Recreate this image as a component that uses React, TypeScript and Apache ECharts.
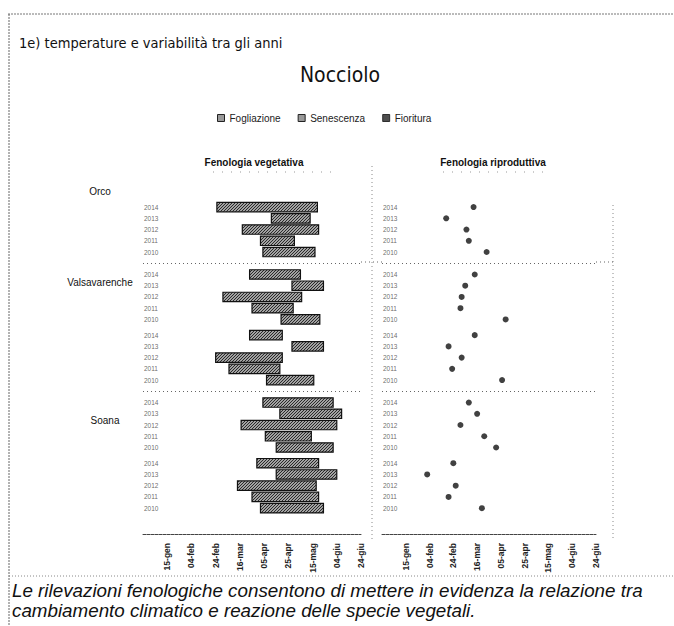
import React, { useEffect, useRef } from 'react';
import * as echarts from 'echarts';

// x values are days counted from 26 December (0 = 26-dic, 20 = 15-gen, ...)
const years = ['2014', '2013', '2012', '2011', '2010'];
const xTickLabels = ['26-dic', '15-gen', '04-feb', '24-feb', '16-mar', '05-apr', '25-apr', '15-mag', '04-giu', '24-giu'];
const seriesNames = ['Fogliazione', 'Senescenza', 'Fioritura'];

const orcoStart = [61, 106, 82, 97, 99];
const orcoEnd = [144, 138, 145, 125, 142];
const orcoFlower = [77, 54, 71, 73, 88];

const valsAStart = [88, 123, 66, 90, 114];
const valsAEnd = [130, 149, 131, 124, 146];
const valsAFlower = [78, 70, 67, 66, 104];

const valsBStart = [88, 123, 60, 71, 102];
const valsBEnd = [115, 149, 115, 113, 141];
const valsBFlower = [78, 56, 67, 59, 101];

const soanaAStart = [99, 113, 81, 101, 110];
const soanaAEnd = [157, 164, 160, 139, 157];
const soanaAFlower = [73, 80, 66, 86, 96];

const soanaBStart = [94, 110, 78, 90, 97];
const soanaBEnd = [145, 160, 143, 145, 149];
const soanaBFlower = [60, 38, 62, 56, 84];

const groups = [
  { site: 'Orco', start: orcoStart, end: orcoEnd, flower: orcoFlower },
  { site: 'Valsavarenche', start: valsAStart, end: valsAEnd, flower: valsAFlower },
  { site: 'Valsavarenche', start: valsBStart, end: valsBEnd, flower: valsBFlower },
  { site: 'Soana', start: soanaAStart, end: soanaAEnd, flower: soanaAFlower },
  { site: 'Soana', start: soanaBStart, end: soanaBEnd, flower: soanaBFlower },
];

function makeHatch() {
  const c = document.createElement('canvas');
  c.width = 3;
  c.height = 3;
  const ctx = c.getContext('2d')!;
  ctx.fillStyle = '#a2a2a2';
  ctx.fillRect(0, 0, 3, 3);
  ctx.fillStyle = '#2a2a2a';
  ctx.fillRect(2, 0, 1, 1);
  ctx.fillRect(1, 1, 1, 1);
  ctx.fillRect(0, 2, 1, 1);
  return c;
}

export default function App() {
  const ref = useRef<HTMLDivElement>(null);
  useEffect(() => {
    if (!ref.current) return;
    const chart = echarts.init(ref.current, null, { renderer: 'svg' });
    const hatch = { image: makeHatch(), repeat: 'repeat', imageWidth: 3, imageHeight: 3 } as any;

    const barRows: any[] = [];
    const flowerRows: any[] = [];
    const yearRowsL: any[] = [];
    const yearRowsR: any[] = [];
    const separators: number[] = [];
    let pos = 0;
    let prevSite = '';
    groups.forEach((g, gi) => {
      if (gi > 0) {
        if (g.site !== prevSite) {
          separators.push(pos);
          pos += 1;
        } else {
          pos += 0.4;
        }
      }
      years.forEach((yr, i) => {
        const p = pos + i;
        barRows.push([g.start[i], g.end[i], p]);
        flowerRows.push([g.flower[i], p]);
        yearRowsL.push({ value: [0, p], year: yr });
        yearRowsR.push({ value: [0, p], year: yr });
      });
      pos += 5;
      prevSite = g.site;
    });

    const xAxisBase = (gridIndex: number) => ({
      type: 'value',
      gridIndex,
      min: 0,
      max: 180,
      interval: 20,
      axisLine: { show: true, onZero: false, lineStyle: { color: '#444', width: 1, type: [3, 1] } },
      axisTick: { show: false },
      splitLine: { show: false },
      axisLabel: {
        rotate: 90,
        margin: 9,
        fontSize: 8.5,
        fontWeight: 'bold',
        fontFamily: 'Liberation Sans, Arial, sans-serif',
        color: '#222',
        showMinLabel: false,
        formatter: (v: number) => xTickLabels[Math.round(v / 20)] || '',
      },
    });
    const yAxisBase = (gridIndex: number) => ({
      type: 'value',
      gridIndex,
      min: -3.3,
      max: 29.1,
      inverse: true,
      show: false,
    });

    const sepLine = {
      silent: true,
      symbol: 'none',
      label: { show: false },
      lineStyle: { color: '#666', type: [1, 3], width: 1 },
      data: separators.map((s) => ({ yAxis: s })),
    };

    const yearLabelSeries = (idx: number, rows: any[]) => ({
      type: 'scatter',
      xAxisIndex: idx,
      yAxisIndex: idx,
      symbolSize: 0,
      silent: true,
      data: rows,
      label: {
        show: true,
        position: 'right',
        distance: 1,
        fontSize: 6.5,
        color: '#444',
        fontFamily: 'Liberation Sans, Arial, sans-serif',
        formatter: (p: any) => p.data.year,
      },
      tooltip: { show: false },
    });

    const dotted = { stroke: '#888', lineWidth: 1, lineDash: [1, 3] };

    const text = (t: string, x: number, y: number, font: string, align = 'left', fill = '#111') => ({
      type: 'text',
      x,
      y,
      silent: true,
      style: {
        text: t,
        font,
        fill,
        align,
        textAlign: align,
        verticalAlign: 'middle',
        textVerticalAlign: 'middle',
      },
    });

    chart.setOption({
      animation: false,
      legend: {
        data: [
          { name: seriesNames[0], itemStyle: { color: '#999', borderColor: '#222', borderWidth: 1 } },
          { name: seriesNames[1], itemStyle: { color: '#999', borderColor: '#222', borderWidth: 1 } },
          { name: seriesNames[2], itemStyle: { color: '#222', borderColor: '#111', borderWidth: 1 } },
        ],
        left: 217,
        top: 113,
        padding: 0,
        icon: 'rect',
        itemWidth: 7,
        itemHeight: 7,
        itemGap: 17,
        selectedMode: false,
        textStyle: { fontSize: 10, color: '#222', fontFamily: 'Liberation Sans, Arial, sans-serif' },
      },
      grid: [
        { left: 143, width: 218, top: 170, height: 364 },
        { left: 382, width: 214, top: 170, height: 364 },
      ],
      xAxis: [xAxisBase(0), xAxisBase(1)],
      yAxis: [yAxisBase(0), yAxisBase(1)],
      series: [
        {
          name: seriesNames[0],
          type: 'custom',
          xAxisIndex: 0,
          yAxisIndex: 0,
          itemStyle: { color: '#999' },
          encode: { x: [0, 1], y: 2 },
          data: barRows,
          renderItem: (params: any, api: any) => {
            const a = api.coord([api.value(0), api.value(2)]);
            const b = api.coord([api.value(1), api.value(2)]);
            const h = api.size([0, 1])[1] * 0.84;
            return {
              type: 'rect',
              shape: { x: a[0], y: a[1] - h / 2, width: b[0] - a[0], height: h },
              style: { fill: hatch, stroke: '#111', lineWidth: 1.2 },
            };
          },
          markLine: sepLine,
        },
        {
          name: seriesNames[1],
          type: 'custom',
          xAxisIndex: 0,
          yAxisIndex: 0,
          itemStyle: { color: '#999' },
          data: [],
          renderItem: () => null,
        },
        {
          name: seriesNames[2],
          type: 'scatter',
          xAxisIndex: 1,
          yAxisIndex: 1,
          symbol: 'circle',
          symbolSize: 6,
          itemStyle: { color: '#111' },
          data: flowerRows,
          markLine: sepLine,
        },
        yearLabelSeries(0, yearRowsL),
        yearLabelSeries(1, yearRowsR),
      ],
      graphic: [
        { type: 'line', silent: true, shape: { x1: 8, y1: 14, x2: 674, y2: 14 }, style: { stroke: '#777', lineWidth: 1, lineDash: [2, 1] } },
        { type: 'line', silent: true, shape: { x1: 9, y1: 14, x2: 9, y2: 626 }, style: { stroke: '#666', lineWidth: 1, lineDash: [2, 1] } },
        { type: 'line', silent: true, shape: { x1: 9, y1: 576, x2: 674, y2: 576 }, style: { stroke: '#888', lineWidth: 1, lineDash: [1, 2] } },
        { type: 'line', silent: true, shape: { x1: 372, y1: 166, x2: 372, y2: 540 }, style: dotted },
        { type: 'line', silent: true, shape: { x1: 613, y1: 205, x2: 613, y2: 540 }, style: dotted },
        { type: 'line', silent: true, shape: { x1: 361, y1: 262, x2: 382, y2: 262 }, style: { stroke: '#666', lineWidth: 1, lineDash: [1, 3] } },
        { type: 'line', silent: true, shape: { x1: 596, y1: 262, x2: 613, y2: 262 }, style: { stroke: '#666', lineWidth: 1, lineDash: [1, 3] } },
        { type: 'line', silent: true, shape: { x1: 213, y1: 172, x2: 333, y2: 172 }, style: { stroke: '#999', lineWidth: 1, lineDash: [1, 8] } },
        { type: 'line', silent: true, shape: { x1: 443, y1: 172, x2: 545, y2: 172 }, style: { stroke: '#999', lineWidth: 1, lineDash: [1, 8] } },
        text('1e) temperature e variabilità tra gli anni', 19, 43, '14.5px "Liberation Sans Narrow", "DejaVu Sans Condensed", sans-serif'),
        text('Nocciolo', 340, 75, '21px "Liberation Sans Narrow", "DejaVu Sans Condensed", sans-serif', 'center'),
        text('Fenologia vegetativa', 254, 162, 'bold 10px "Liberation Sans", Arial, sans-serif', 'center'),
        text('Fenologia riproduttiva', 493, 162, 'bold 10px "Liberation Sans", Arial, sans-serif', 'center'),
        text('Orco', 100, 191, '10px "Liberation Sans", Arial, sans-serif', 'center'),
        text('Valsavarenche', 100, 282, '10px "Liberation Sans", Arial, sans-serif', 'center'),
        text('Soana', 105, 420, '10px "Liberation Sans", Arial, sans-serif', 'center'),
        text('Le rilevazioni fenologiche consentono di mettere in evidenza la relazione tra', 12, 590, 'italic 18.8px "Liberation Sans", Arial, sans-serif'),
        text('cambiamento climatico e reazione delle specie vegetali.', 12, 610, 'italic 18.8px "Liberation Sans", Arial, sans-serif'),
      ],
    });
    return () => chart.dispose();
  }, []);
  return <div ref={ref} style={{ position: 'fixed', left: 0, top: 0, width: 674, height: 626, background: '#fff' }} />;
}
